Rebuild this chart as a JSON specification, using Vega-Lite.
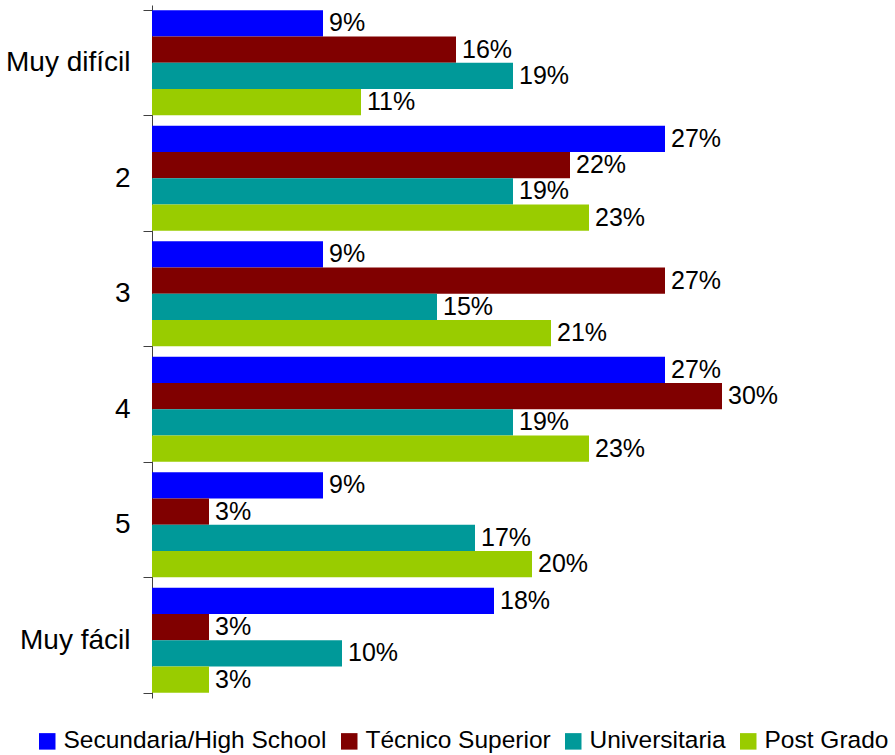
{
  "$schema": "https://vega.github.io/schema/vega-lite/v6.json",
  "width": 722,
  "height": 693,
  "autosize": {"type": "none"},
  "padding": {"left": 152, "top": 5, "right": 21, "bottom": 57},
  "background": "white",
  "config": {
    "view": {"stroke": null},
    "font": "Liberation Sans"
  },
  "data": {
    "values": [
      {"cat": "Muy difícil", "serie": "Secundaria/High School", "v": 0.09},
      {"cat": "Muy difícil", "serie": "Técnico Superior", "v": 0.16},
      {"cat": "Muy difícil", "serie": "Universitaria", "v": 0.19},
      {"cat": "Muy difícil", "serie": "Post Grado", "v": 0.11},
      {"cat": "2", "serie": "Secundaria/High School", "v": 0.27},
      {"cat": "2", "serie": "Técnico Superior", "v": 0.22},
      {"cat": "2", "serie": "Universitaria", "v": 0.19},
      {"cat": "2", "serie": "Post Grado", "v": 0.23},
      {"cat": "3", "serie": "Secundaria/High School", "v": 0.09},
      {"cat": "3", "serie": "Técnico Superior", "v": 0.27},
      {"cat": "3", "serie": "Universitaria", "v": 0.15},
      {"cat": "3", "serie": "Post Grado", "v": 0.21},
      {"cat": "4", "serie": "Secundaria/High School", "v": 0.27},
      {"cat": "4", "serie": "Técnico Superior", "v": 0.30},
      {"cat": "4", "serie": "Universitaria", "v": 0.19},
      {"cat": "4", "serie": "Post Grado", "v": 0.23},
      {"cat": "5", "serie": "Secundaria/High School", "v": 0.09},
      {"cat": "5", "serie": "Técnico Superior", "v": 0.03},
      {"cat": "5", "serie": "Universitaria", "v": 0.17},
      {"cat": "5", "serie": "Post Grado", "v": 0.20},
      {"cat": "Muy fácil", "serie": "Secundaria/High School", "v": 0.18},
      {"cat": "Muy fácil", "serie": "Técnico Superior", "v": 0.03},
      {"cat": "Muy fácil", "serie": "Universitaria", "v": 0.10},
      {"cat": "Muy fácil", "serie": "Post Grado", "v": 0.03}
    ]
  },
  "encoding": {
    "y": {
      "field": "cat",
      "type": "nominal",
      "sort": ["Muy difícil", "2", "3", "4", "5", "Muy fácil"],
      "scale": {"paddingInner": 0.09, "paddingOuter": 0.045},
      "axis": {
        "title": null,
        "tickBand": "extent",
        "tickSize": 9,
        "tickColor": "#404040",
        "domainColor": "#404040",
        "labelPadding": 13,
        "labelFontSize": 28,
        "labelColor": "#000000",
        "labelFont": "Liberation Sans"
      }
    },
    "yOffset": {
      "field": "serie",
      "type": "nominal",
      "sort": ["Secundaria/High School", "Técnico Superior", "Universitaria", "Post Grado"],
      "scale": {"paddingInner": 0, "paddingOuter": 0}
    },
    "x": {
      "field": "v",
      "type": "quantitative",
      "scale": {"domain": [0, 0.38], "nice": false},
      "axis": null
    }
  },
  "layer": [
    {
      "mark": {"type": "bar"},
      "encoding": {
        "color": {
          "field": "serie",
          "type": "nominal",
          "sort": ["Secundaria/High School", "Técnico Superior", "Universitaria", "Post Grado"],
          "scale": {
            "domain": ["Secundaria/High School", "Técnico Superior", "Universitaria", "Post Grado"],
            "range": ["#0000FF", "#800000", "#009999", "#99CC00"]
          },
          "legend": {
            "title": null,
            "orient": "none",
            "direction": "horizontal",
            "legendX": -117,
            "legendY": 724,
            "columns": 4,
            "symbolType": "square",
            "symbolSize": 272,
            "symbolStrokeWidth": 0,
            "symbolOpacity": 1,
            "labelFontSize": 24.5,
            "labelColor": "#000000",
            "labelFont": "Liberation Sans",
            "labelOffset": 4,
            "columnPadding": 10,
            "padding": 0,
            "labelLimit": 400
          }
        }
      }
    },
    {
      "mark": {"type": "text", "align": "left", "baseline": "middle", "dx": 6, "fontSize": 25, "color": "#000000", "font": "Liberation Sans"},
      "encoding": {
        "text": {"field": "v", "type": "quantitative", "format": ".0%"}
      }
    }
  ]
}
